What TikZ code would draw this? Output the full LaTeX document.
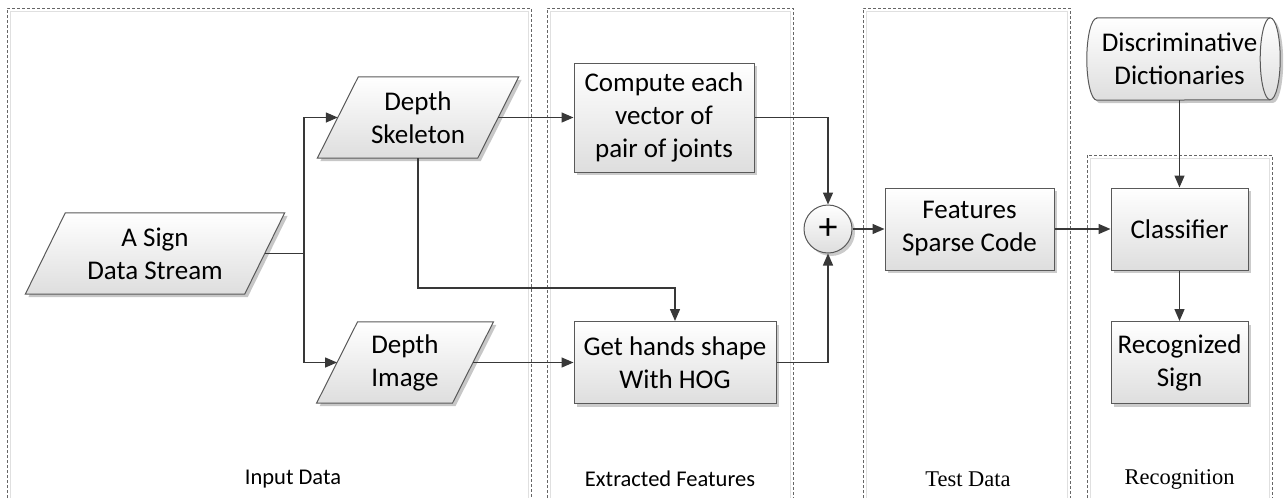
\documentclass[tikz,border=0pt]{standalone}
\usepackage{fontspec}
\setmainfont{Carlito}
\newfontfamily\tnr{Liberation Serif}
\usetikzlibrary{arrows.meta,backgrounds,shadows}
\begin{document}
\begin{tikzpicture}[x=1pt,y=-1pt,
  boxtxt/.style={font=\fontsize{27}{33}\selectfont, align=center, inner sep=0pt, text=black},
  box/.style={boxtxt, rectangle, draw=black!65, line width=1pt, top color=white, bottom color=black!13,
    drop shadow={shadow xshift=3pt, shadow yshift=-3pt, fill=black!45, opacity=0.45}},
  paranode/.style={boxtxt, minimum height=81pt},
  parafill/.style={draw=black!65, line width=1pt, top color=white, bottom color=black!13},
  parashadow/.style={fill=black!22},
  para/.style n args={4}{insert path={([xshift=#2+#3,yshift=#4]#1.north west) -- ([xshift=#2+#3,yshift=#4]#1.north east) -- ([xshift=-#2+#3,yshift=#4]#1.south east) -- ([xshift=-#2+#3,yshift=#4]#1.south west) -- cycle}},
  conn/.style={draw=black!78, line width=1.4pt, -{Triangle[length=12pt,width=10pt]}},
  plain/.style={draw=black!78, line width=1.4pt},
  panel/.style={draw=black!60, line width=0.7pt, dash pattern=on 3pt off 2pt},
  panelsh/.style={draw=black!12, line width=1pt},
  lbl/.style={font=\fontsize{22.5}{27}\selectfont, inner sep=0pt},
]
\useasboundingbox (0,0) rectangle (1285,498);

% nodes
\node[paranode, minimum width=219pt] (as) at (155,253.5) {A Sign\\Data Stream};
\node[paranode, minimum width=160pt] (ds) at (418,117.5) {Depth\\Skeleton};
\node[paranode, minimum width=135.5pt] (di) at (405,362.5) {Depth\\Image};
\node[box, minimum width=180pt, minimum height=109pt] (cmp) at (664,117.5) {Compute each\\vector of\\pair of joints};
\node[box, minimum width=202pt, minimum height=82pt] (gh) at (675,362.5) {Get hands shape\\With HOG};
\node[box, circle, minimum size=48pt, font=\fontsize{38}{38}\selectfont] (sum) at (828,229) {+};
\node[box, minimum width=169pt, minimum height=82pt] (fsc) at (969.5,229) {Features\\Sparse Code};
\node[box, minimum width=137pt, minimum height=82pt] (cls) at (1179.5,229) {Classifier};
\node[box, minimum width=137pt, minimum height=82pt] (rec) at (1179.5,362.5) {Recognized\\Sign};
\node[boxtxt, minimum width=165pt, minimum height=82pt] (cyl) at (1179.5,59) {Discriminative\\Dictionaries};

% labels
\node[lbl] (l1) at (293,479) {Input Data};
\node[lbl] (l2) at (670,479) {Extracted Features};
\node[lbl] (l3) at (968,479) {\tnr Test Data};
\node[lbl] (l4) at (1179.5,479) {\tnr Recognition};

\begin{scope}[on background layer]
  % panels
  \draw[panelsh] (10,498) -- (10,11) -- (528,11) -- (528,498);
  \draw[panel] (7,498) -- (7,8) -- (531,8) -- (531,498);
  \draw[panelsh] (550,498) -- (550,11) -- (790,11) -- (790,498);
  \draw[panel] (547,498) -- (547,8) -- (793,8) -- (793,498);
  \draw[panelsh] (866,498) -- (866,11) -- (1067,11) -- (1067,498);
  \draw[panel] (863,498) -- (863,8) -- (1070,8) -- (1070,498);
  \draw[panelsh] (1090,498) -- (1090,158) -- (1269,158) -- (1269,498);
  \draw[panel] (1087,498) -- (1087,155) -- (1272,155) -- (1272,498);
  % parallelograms
  \path[parashadow, para={as}{20pt}{3pt}{-3pt}];
  \path[parafill, para={as}{20pt}{0pt}{0pt}];
  \path[parashadow, para={ds}{20.5pt}{3pt}{-3pt}];
  \path[parafill, para={ds}{20.5pt}{0pt}{0pt}];
  \path[parashadow, para={di}{20.5pt}{3pt}{-3pt}];
  \path[parafill, para={di}{20.5pt}{0pt}{0pt}];
  % cylinder
  \path[parashadow] ([xshift=3pt,yshift=-3pt]cyl.north west) -- ([xshift=11pt,yshift=-3pt]cyl.north east)
     arc[start angle=90, end angle=-90, x radius=10pt, y radius=41pt]
     -- ([xshift=3pt,yshift=-3pt]cyl.south west)
     arc[start angle=270, end angle=90, x radius=10pt, y radius=41pt] -- cycle;
  \path[parafill] (cyl.north west) -- ([xshift=8pt]cyl.north east)
     arc[start angle=90, end angle=-90, x radius=10pt, y radius=41pt]
     -- (cyl.south west)
     arc[start angle=270, end angle=90, x radius=10pt, y radius=41pt] -- cycle;
  \draw[draw=black!65, line width=1pt] ([xshift=8pt]cyl.north east)
     arc[start angle=90, end angle=270, x radius=10pt, y radius=41pt];
\end{scope}

% connectors
\coordinate (split) at (304,253.5);
\coordinate (jog) at (500,288);
\draw[plain] (as.east) -- (split);
\draw[conn] (split) |- (ds.west);
\draw[conn] (split) |- (di.west);
\draw[conn] (ds.east) -- (cmp.west);
\draw[conn] (ds.south) |- (jog) -| (gh.north);
\draw[conn] (di.east) -- (gh.west);
\draw[conn] (cmp.east) -| (sum.north);
\draw[conn] (gh.east) -| (sum.south);
\draw[conn] (sum.east) -- (fsc.west);
\draw[conn] (fsc.east) -- (cls.west);
\draw[conn] (cyl.south) -- (cls.north);
\draw[conn] (cls.south) -- (rec.north);
\end{tikzpicture}
\end{document}
